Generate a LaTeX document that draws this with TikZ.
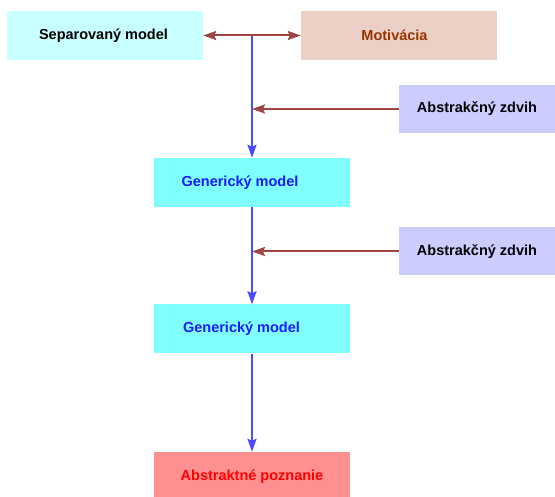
\documentclass[tikz,border=0pt]{standalone}
\usepackage{fontspec}
\setmainfont{Liberation Sans}
\usetikzlibrary{arrows.meta}
\definecolor{sepfill}{HTML}{C8FFFF}
\definecolor{motfill}{HTML}{EBD0C5}
\definecolor{mottext}{HTML}{993300}
\definecolor{azfill}{HTML}{CCCCFF}
\definecolor{gmfill}{HTML}{80FFFF}
\definecolor{gmtext}{HTML}{1A1AFF}
\definecolor{apfill}{HTML}{FF9090}
\definecolor{aptext}{HTML}{FF0000}
\definecolor{redline}{HTML}{A04444}
\definecolor{blueline}{HTML}{4A4AFF}
\tikzset{
  box/.style={rectangle, draw=none, minimum width=196pt, minimum height=49pt, inner sep=0pt,
    font=\fontsize{14.5pt}{17pt}\selectfont\bfseries},
  smallbox/.style={box, minimum width=156pt, minimum height=48pt},
  redarrow/.style={draw=redline, line width=2pt, -{Stealth[length=13pt,width=9pt,inset=2pt]}},
  bluearrow/.style={draw=blueline, line width=2.2pt, -{Stealth[length=13pt,width=9pt,inset=2pt]}},
}
\begin{document}
\begin{tikzpicture}[x=1pt,y=-1pt]
\useasboundingbox (0,0) rectangle (555,497);
\begin{scope}
\clip (0,0) rectangle (555,497);
\node[box, fill=sepfill, text=black] (sep) at (105,35.5) {Separovaný model\hspace*{3pt}};
\node[box, fill=motfill, text=mottext] (mot) at (399,35.5) {Motivácia\hspace*{9pt}};
\node[smallbox, fill=azfill, text=black] (az1) at (477,109) {Abstrakčný zdvih};
\node[box, fill=gmfill, text=gmtext] (gm1) at (252,182.5) {Generický model\hspace*{24pt}};
\node[smallbox, fill=azfill, text=black] (az2) at (477,251.5) {Abstrakčný zdvih};
\node[box, fill=gmfill, text=gmtext] (gm2) at (252,329) {Generický model\hspace*{21pt}};
\node[box, fill=apfill, text=aptext] (ap) at (252,476.5) {Abstraktné poznanie};
\end{scope}
\coordinate (j) at (252,35.5);
\coordinate (j1) at (az1.west -| j);
\coordinate (j2) at (az2.west -| j);
\draw[bluearrow] (j) -- (gm1.north);
\draw[redarrow] (j) -- (sep.east);
\draw[redarrow] (j) -- (mot.west);
\draw[redarrow] (az1.west) -- (j1);
\draw[redarrow] (az2.west) -- (j2);
\draw[bluearrow] (gm1.south) -- (gm2.north);
\draw[bluearrow] (gm2.south) -- (gm2.south |- ap.north);
\end{tikzpicture}
\end{document}
